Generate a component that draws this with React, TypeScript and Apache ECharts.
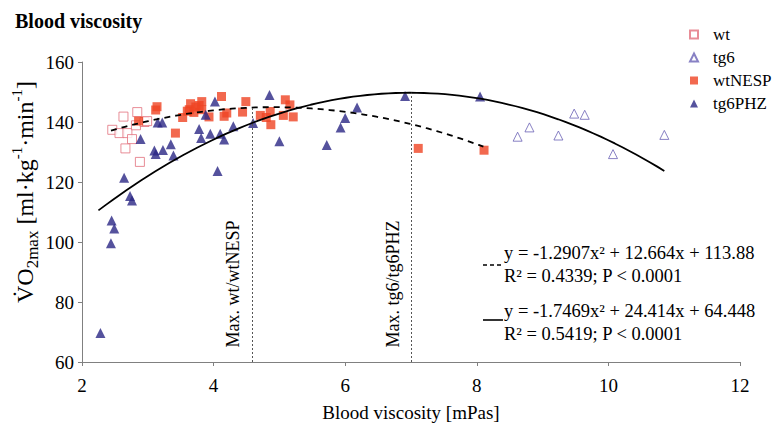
import React, { useEffect, useRef } from "react";
import * as echarts from "echarts";

const FONT = "'Liberation Serif', 'Times New Roman', serif";

const wtData: number[][] = [
  [2.63, 141.8], [2.84, 143.3], [2.46, 137.4], [2.57, 136.3], [2.69, 136.3],
  [2.82, 138.9], [2.76, 134.3], [2.66, 131.2], [2.88, 126.7], [2.95, 140.0],
  [2.99, 140.3],
];

const tg6Data: number[][] = [
  [8.62, 135.1], [8.8, 138.2], [9.24, 135.5], [9.48, 142.8], [9.64, 142.4],
  [10.07, 129.3], [10.85, 135.7],
];

const wtNESPData: number[][] = [
  [2.86, 140.3], [3.12, 144.0], [3.14, 145.1], [3.42, 136.3], [3.53, 141.5],
  [3.6, 143.6], [3.65, 146.1], [3.63, 144.1], [3.73, 145.0], [3.78, 145.5],
  [3.82, 146.8], [3.82, 144.1], [3.7, 143.2], [3.93, 141.7], [4.12, 148.5],
  [4.16, 141.9], [4.2, 143.0], [4.44, 143.3], [4.49, 146.8], [4.71, 142.2],
  [4.8, 141.5], [4.86, 143.5], [4.87, 139.1], [5.09, 147.4], [5.16, 145.7],
  [5.06, 142.2], [5.21, 141.7], [7.11, 131.2], [8.11, 130.6],
];

const tg6PHZData: number[][] = [
  [2.89, 134.3], [3.15, 139.8], [3.22, 139.8], [3.35, 132.6], [3.23, 130.7],
  [3.1, 130.5], [3.12, 129.3], [3.39, 128.8], [2.64, 121.4], [2.73, 115.3],
  [2.76, 113.8], [2.45, 107.2], [2.49, 104.5], [2.44, 99.6], [2.28, 69.7],
  [4.02, 146.8], [3.88, 142.4], [3.78, 137.7], [3.81, 134.7], [3.95, 136.1],
  [4.1, 136.1], [4.16, 134.2], [4.3, 138.6], [4.06, 123.7], [4.6, 139.7],
  [4.85, 149.0], [5.0, 133.6], [6.18, 144.8], [6.0, 141.3], [5.93, 138.2],
  [5.72, 132.3], [6.91, 148.7], [8.05, 148.5],
];

// Fit coefficients printed on the chart: y = a x^2 + b x + c
const wtFitCoef = [-1.2907, 12.664, 113.88];
const wtFitRange = [2.44, 8.1];
const tgFitCoef = [-1.7469, 24.414, 64.448];
const tgFitRange = [2.25, 10.85];
const maxX = [4.58, 7.0];

const xTicks = { min: 2, max: 12, interval: 2 };
const yTicks = { min: 60, max: 160, interval: 20 };

const evalFit = (c: number[], x: number) => c[0] * x * x + c[1] * x + c[2];
const fitCurve = (c: number[], r: number[]) => {
  const pts: number[][] = [];
  const n = 80;
  for (let i = 0; i <= n; i++) {
    const x = r[0] + ((r[1] - r[0]) * i) / n;
    pts.push([x, evalFit(c, x)]);
  }
  return pts;
};

export default function App() {
  const ref = useRef<HTMLDivElement>(null);
  useEffect(() => {
    if (!ref.current) return;
    const chart = echarts.init(ref.current, undefined, { renderer: "svg" });
    const axisCommon = {
      axisLine: { show: true, lineStyle: { color: "#808080", width: 1 } },
      axisTick: { show: true, inside: false, length: 4, lineStyle: { color: "#808080" } },
      splitLine: { show: false },
    };
    const textCenter = {
      align: "center",
      verticalAlign: "middle",
      textAlign: "center",
      textVerticalAlign: "middle",
    };
    chart.setOption({
      animation: false,
      backgroundColor: "#ffffff",
      title: {
        text: "Blood viscosity",
        left: 10,
        top: 6,
        textStyle: { fontSize: 20, fontWeight: "bold", fontFamily: FONT, color: "#000" },
      },
      legend: {
        data: ["wt", "tg6", "wtNESP", "tg6PHZ"],
        orient: "vertical",
        left: 689,
        top: 26,
        padding: 0,
        itemWidth: 8,
        itemHeight: 8,
        itemGap: 6,
        textStyle: { fontSize: 17, fontFamily: FONT, color: "#000", lineHeight: 17, padding: [0, 0, 0, 10] },
      },
      grid: { left: 82, right: 35, top: 62, bottom: 62, containLabel: false },
      xAxis: {
        type: "value",
        min: xTicks.min,
        max: xTicks.max,
        interval: xTicks.interval,
        name: "Blood viscosity [mPas]",
        nameLocation: "middle",
        nameGap: 41,
        nameTextStyle: { fontSize: 19, fontFamily: FONT, color: "#000" },
        axisLabel: { fontSize: 19, fontFamily: FONT, color: "#000", margin: 14 },
        ...axisCommon,
      },
      yAxis: {
        type: "value",
        min: yTicks.min,
        max: yTicks.max,
        interval: yTicks.interval,
        axisLabel: { fontSize: 19, fontFamily: FONT, color: "#000", margin: 8 },
        ...axisCommon,
      },
      graphic: [
        {
          type: "text",
          x: 25,
          y: 192,
          rotation: Math.PI / 2,
          style: {
            text: "{a|V̇O}{b|2max}{a| [ml·kg}{c|-1}{a|·min}{c|-1}{a|]}",
            rich: {
              a: { fontSize: 24, fontFamily: FONT, lineHeight: 32, verticalAlign: "middle", fill: "#000" },
              b: { fontSize: 17, fontFamily: FONT, lineHeight: 17, verticalAlign: "bottom", fill: "#000" },
              c: { fontSize: 15, fontFamily: FONT, lineHeight: 15, verticalAlign: "top", fill: "#000" },
            },
            ...textCenter,
          },
        },
        {
          type: "text",
          x: 233,
          y: 284,
          rotation: Math.PI / 2,
          style: { text: "Max. wt/wtNESP", fontSize: 18, fontFamily: FONT, fill: "#000", ...textCenter },
        },
        {
          type: "text",
          x: 393,
          y: 284,
          rotation: Math.PI / 2,
          style: { text: "Max. tg6/tg6PHZ", fontSize: 18, fontFamily: FONT, fill: "#000", ...textCenter },
        },
        {
          type: "line",
          shape: { x1: 483, y1: 265, x2: 501, y2: 265 },
          style: { stroke: "#000", lineWidth: 1.6, lineDash: [4, 3] },
        },
        {
          type: "line",
          shape: { x1: 483, y1: 320, x2: 503, y2: 320 },
          style: { stroke: "#000", lineWidth: 1.6 },
        },
        {
          type: "text",
          x: 504,
          y: 241.5,
          style: {
            text: "y = -1.2907x² + 12.664x + 113.88\nR² = 0.4339; P < 0.0001",
            fontSize: 18.5,
            fontFamily: FONT,
            lineHeight: 23,
            fill: "#000",
            verticalAlign: "top",
            textVerticalAlign: "top",
          },
        },
        {
          type: "text",
          x: 504,
          y: 299.5,
          style: {
            text: "y = -1.7469x² + 24.414x + 64.448\nR² = 0.5419; P < 0.0001",
            fontSize: 18.5,
            fontFamily: FONT,
            lineHeight: 23,
            fill: "#000",
            verticalAlign: "top",
            textVerticalAlign: "top",
          },
        },
      ],
      series: [
        {
          name: "wt",
          type: "scatter",
          symbol: "rect",
          symbolSize: 9,
          data: wtData,
          z: 2,
          itemStyle: { color: "#ffffff", borderColor: "#e2707d", borderWidth: 1 },
        },
        {
          name: "tg6",
          type: "scatter",
          symbol: "triangle",
          symbolSize: 9,
          data: tg6Data,
          z: 2,
          itemStyle: { color: "#ffffff", borderColor: "#6a62b5", borderWidth: 1 },
        },
        {
          name: "wtNESP",
          type: "scatter",
          symbol: "rect",
          symbolSize: 9,
          data: wtNESPData,
          z: 2,
          itemStyle: { color: "#ef4423" },
        },
        {
          name: "tg6PHZ",
          type: "scatter",
          symbol: "triangle",
          symbolSize: 10,
          data: tg6PHZData,
          z: 2,
          itemStyle: { color: "#2a2785" },
        },
        {
          name: "fit wt",
          type: "line",
          data: fitCurve(wtFitCoef, wtFitRange),
          showSymbol: false,
          symbol: "none",
          silent: true,
          z: 3,
          lineStyle: { color: "#000", width: 1.8, type: [6, 5] },
          markLine: {
            silent: true,
            symbol: "none",
            label: { show: false },
            lineStyle: { color: "#555", width: 1, type: [2, 2] },
            data: [
              [
                { coord: [maxX[0], yTicks.min] },
                { coord: [maxX[0], evalFit(wtFitCoef, maxX[0])] },
              ],
            ],
          },
        },
        {
          name: "fit tg",
          type: "line",
          data: fitCurve(tgFitCoef, tgFitRange),
          showSymbol: false,
          symbol: "none",
          silent: true,
          z: 3,
          lineStyle: { color: "#000", width: 1.8 },
          markLine: {
            silent: true,
            symbol: "none",
            label: { show: false },
            lineStyle: { color: "#555", width: 1, type: [2, 2] },
            data: [
              [
                { coord: [maxX[1], yTicks.min] },
                { coord: [maxX[1], evalFit(tgFitCoef, maxX[1])] },
              ],
            ],
          },
        },
      ],
    });
    return () => chart.dispose();
  }, []);
  return (
    <div
      ref={ref}
      style={{ position: "fixed", left: 0, top: 0, width: 775, height: 427 }}
    />
  );
}
